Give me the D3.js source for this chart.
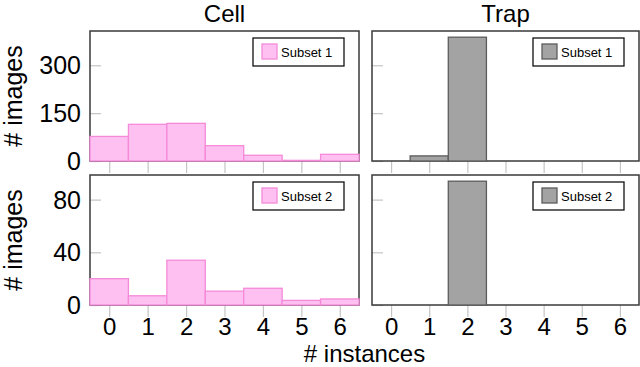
<!DOCTYPE html>
<html>
<head>
<meta charset="utf-8">
<script src="https://cdn.jsdelivr.net/npm/d3@7"></script>
<style>
  html, body { margin: 0; padding: 0; background: #fff; }
  svg { display: block; font-family: "Liberation Sans", Arial, Helvetica, sans-serif; }
</style>
</head>
<body>
<svg id="chart" width="640" height="367"></svg>
<script>
// ---- data ----
const instances = [0, 1, 2, 3, 4, 5, 6];
const columns = ["Cell", "Trap"];
const subsets = ["Subset 1", "Subset 2"];
const cellSubset1 = [77, 115, 118, 48, 18, 2, 21];
const trapSubset1 = [0, 16, 388, 0, 0, 0, 0];
const cellSubset2 = [20, 7, 34, 10.5, 12.7, 3.5, 4.6];
const trapSubset2 = [0, 0, 94, 0, 0, 0, 0];
const ticksRow1 = [0, 150, 300];
const ticksRow2 = [0, 40, 80];
const yLabel = "# images";
const xLabel = "# instances";

// ---- layout ----
const svg = d3.select("#chart");
const colX = [[90, 359], [372, 639]];
const rowY = [[31, 161], [175, 305]];
const fillCell = "#fdc0f1", strokeCell = "#f58ad9";
const fillTrap = "#a3a3a3", strokeTrap = "#5c5c5c";

const rows = [
  { series: [cellSubset1, trapSubset1], ticks: ticksRow1, legend: subsets[0] },
  { series: [cellSubset2, trapSubset2], ticks: ticksRow2, legend: subsets[1] }
];

rows.forEach((row, ri) => {
  const maxV = d3.max(row.series.flat());
  const y = d3.scaleLinear().domain([0, maxV * 1.05]).range(rowY[ri].slice().reverse());
  columns.forEach((col, ci) => {
    const x = d3.scaleLinear().domain([-0.5, 6.5]).range(colX[ci]);
    const g = svg.append("g");
    const vals = row.series[ci];
    const fill = ci === 0 ? fillCell : fillTrap;
    const stroke = ci === 0 ? strokeCell : strokeTrap;

    // x ticks (below panel, gray)
    g.append("g")
      .attr("transform", `translate(0,${rowY[ri][1]})`)
      .call(d3.axisBottom(x).tickValues(instances).tickSize(12).tickSizeOuter(0)
        .tickFormat(ri === 1 ? d3.format("d") : () => ""))
      .call(a => a.select(".domain").remove())
      .call(a => a.selectAll("line").attr("stroke", "#c4c4c4").attr("stroke-width", 1.2))
      .call(a => a.selectAll("text").attr("font-size", 24).attr("fill", "#000")
        .attr("y", 13).attr("dy", "0.71em"));

    // y ticks (inside panel, gray)
    g.append("g")
      .attr("transform", `translate(${colX[ci][0]},0)`)
      .call(d3.axisRight(y).tickValues(row.ticks).tickSize(11).tickFormat(""))
      .call(a => a.select(".domain").remove())
      .call(a => a.selectAll("line").attr("stroke", "#c4c4c4").attr("stroke-width", 1.2));

    if (ci === 0) {
      g.append("g").selectAll("text").data(row.ticks).join("text")
        .attr("x", colX[0][0] - 9).attr("y", d => y(d)).attr("dy", "0.36em")
        .attr("text-anchor", "end").attr("font-size", 25).text(d => d);
    }

    // frame
    g.append("rect")
      .attr("x", colX[ci][0]).attr("y", rowY[ri][0])
      .attr("width", colX[ci][1] - colX[ci][0]).attr("height", rowY[ri][1] - rowY[ri][0])
      .attr("fill", "none").attr("stroke", "#3a3a3a").attr("stroke-width", 1.5);

    // bars
    g.append("g").selectAll("rect")
      .data(instances.map((k, i) => ({ k, v: vals[i] })).filter(d => d.v > 0))
      .join("rect")
      .attr("x", d => x(d.k - 0.5)).attr("width", d => x(d.k + 0.5) - x(d.k - 0.5))
      .attr("y", d => y(d.v)).attr("height", d => y(0) - y(d.v))
      .attr("fill", fill).attr("stroke", stroke).attr("stroke-width", 1.3);

    // legend
    const lx = colX[ci][1] - 106, ly = rowY[ri][0] + 7;
    const lg = g.append("g").attr("transform", `translate(${lx},${ly})`);
    lg.append("rect").attr("width", 91).attr("height", 28)
      .attr("fill", "#fff").attr("stroke", "#111").attr("stroke-width", 1.3);
    lg.append("rect").attr("x", 9).attr("y", 6).attr("width", 15).attr("height", 15)
      .attr("fill", fill).attr("stroke", stroke).attr("stroke-width", 1.3);
    lg.append("text").attr("x", 28).attr("y", 14).attr("dy", "0.36em")
      .attr("font-size", 13).text(row.legend);
  });

  // y label
  const cy = (rowY[ri][0] + rowY[ri][1]) / 2;
  svg.append("text").attr("transform", `translate(22,${cy}) rotate(-90)`)
    .attr("text-anchor", "middle").attr("font-size", 25).text(yLabel);
});

// titles
columns.forEach((c, ci) => {
  svg.append("text").attr("x", (colX[ci][0] + colX[ci][1]) / 2).attr("y", 22)
    .attr("text-anchor", "middle").attr("font-size", 24).text(c);
});

// x label
svg.append("text").attr("x", (colX[0][0] + colX[1][1]) / 2).attr("y", 362)
  .attr("text-anchor", "middle").attr("font-size", 24).text(xLabel);
</script>
</body>
</html>
